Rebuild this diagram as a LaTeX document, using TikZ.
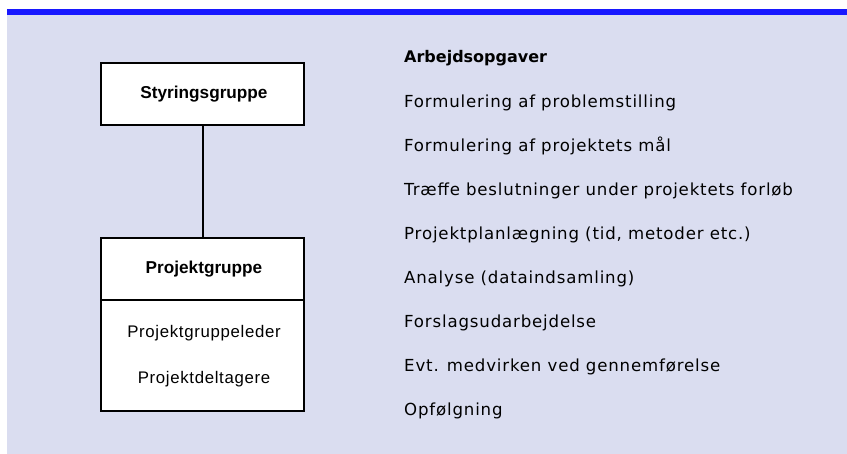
\documentclass[tikz,border=0pt]{standalone}
\usepackage{fontspec}
\setmainfont{Liberation Sans}
\newfontfamily\listfont[LetterSpace=5]{DejaVu Sans}
\newfontfamily\listheadfont{DejaVu Sans}
\newfontfamily\boxfont[LetterSpace=4]{Liberation Sans}
\definecolor{panel}{RGB}{218,221,240}
\definecolor{topbar}{RGB}{24,24,255}
\tikzset{
  orgbox/.style={draw=black, line width=1.2pt, fill=white, inner sep=0pt},
  boxhead/.style={anchor=base, inner sep=0pt, font=\fontsize{17.2}{20}\selectfont\bfseries},
  boxitem/.style={anchor=base, inner sep=0pt, font=\fontsize{16.8}{20}\selectfont\boxfont},
  listhead/.style={anchor=base west, inner sep=0pt, font=\fontsize{16}{20}\selectfont\listheadfont\bfseries},
  listitem/.style={anchor=base west, inner sep=0pt, font=\fontsize{16.6}{20}\selectfont\listfont},
  link/.style={draw=black, line width=2pt}
}
\begin{document}
\begin{tikzpicture}[x=1pt,y=-1pt]
\useasboundingbox (0,0) rectangle (847,454);
% panel and top stripe
\fill[panel] (7,9) rectangle (847,454);
\fill[topbar] (7,9) rectangle (847,15.5);

% organisation boxes
\node[orgbox, minimum width=203pt, minimum height=62pt] (sty) at (202.5,94) {};
\node[boxhead] (styt) at (204,99) {Styringsgruppe};

\node[orgbox, minimum width=203pt, minimum height=173pt] (proj) at (202.5,324.5) {};
\coordinate (divl) at (101,300);
\coordinate (divr) at (304,300);
\draw[line width=1.2pt] (proj.west |- divl) -- (proj.east |- divr);
\node[boxhead] (projt) at (204,273.3) {Projektgruppe};
\node[boxitem] (leader) at (204,337.3) {Projektgruppeleder};
\node[boxitem] (members) at (204,383.3) {Projektdeltagere};

\draw[link] (sty.south) -- (proj.north);

% task list
\node[listhead] (h) at (404,63) {Arbejdsopgaver};
\node[listitem] (t1) at (404,107.1) {Formulering af problemstilling};
\node[listitem] (t2) at (404,151.2) {Formulering af projektets mål};
\node[listitem] (t3) at (404,195.3) {Træffe beslutninger under projektets forløb};
\node[listitem] (t4) at (404,239.4) {Projektplanlægning (tid, metoder etc.)};
\node[listitem] (t5) at (404,283.5) {Analyse (dataindsamling)};
\node[listitem] (t6) at (404,327.6) {Forslagsudarbejdelse};
\node[listitem] (t7) at (404,371.7) {Evt. medvirken ved gennemførelse};
\node[listitem] (t8) at (404,415.8) {Opfølgning};
\end{tikzpicture}
\end{document}
